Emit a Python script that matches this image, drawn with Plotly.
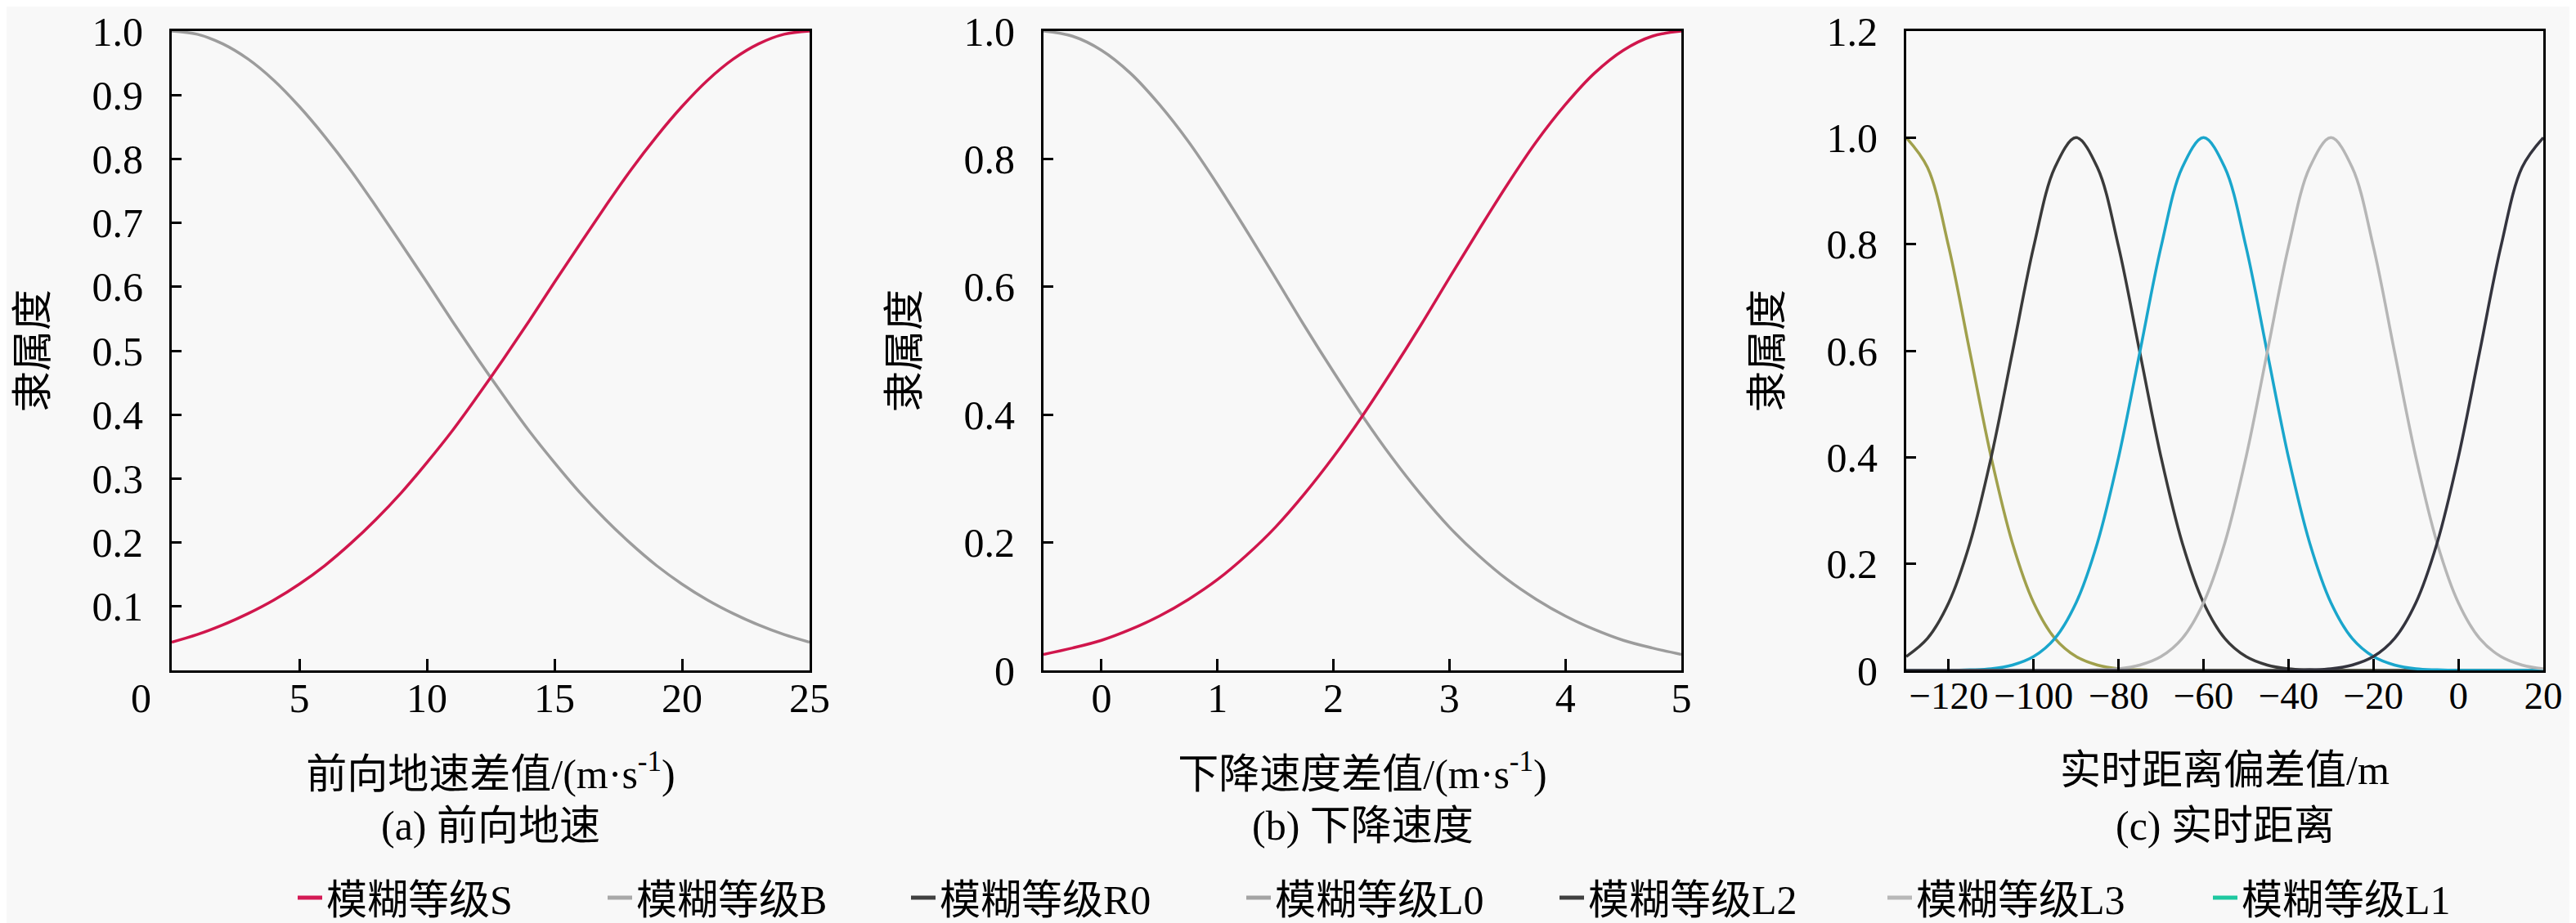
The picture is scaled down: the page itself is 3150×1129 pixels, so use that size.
import plotly.graph_objects as go

# (a) 前向地速
speed_x = [0, 1, 2, 3, 4, 5, 6, 7, 8, 9, 10, 11, 12, 13, 14, 15, 16, 17, 18, 19, 20, 21, 22, 23, 24, 25]
speed_B = [1.000, 0.995, 0.980, 0.956, 0.923, 0.882, 0.835, 0.783, 0.726, 0.667, 0.607, 0.546, 0.487,
           0.430, 0.375, 0.325, 0.278, 0.236, 0.198, 0.164, 0.135, 0.110, 0.089, 0.071, 0.056, 0.044]
speed_S = [0.044, 0.056, 0.071, 0.089, 0.110, 0.135, 0.164, 0.198, 0.236, 0.278, 0.325, 0.375, 0.430,
           0.487, 0.546, 0.607, 0.667, 0.726, 0.783, 0.835, 0.882, 0.923, 0.956, 0.980, 0.995, 1.000]

# (b) 下降速度
descent_x = [-0.5, -0.25, 0, 0.25, 0.5, 0.75, 1, 1.25, 1.5, 1.75, 2, 2.25, 2.5, 2.75, 3, 3.25, 3.5,
             3.75, 4, 4.25, 4.5, 4.75, 5]
descent_B = [1.000, 0.992, 0.970, 0.934, 0.885, 0.827, 0.760, 0.688, 0.614, 0.539, 0.467, 0.398,
             0.334, 0.276, 0.224, 0.180, 0.142, 0.111, 0.085, 0.064, 0.047, 0.035, 0.025]
descent_S = [0.025, 0.035, 0.047, 0.064, 0.085, 0.111, 0.142, 0.180, 0.224, 0.276, 0.334, 0.398,
             0.467, 0.539, 0.614, 0.688, 0.760, 0.827, 0.885, 0.934, 0.970, 0.992, 1.000]

# (c) 实时距离
dist_x = [-130, -125, -120, -115, -110, -105, -100, -95, -90, -85, -80, -75, -70, -65, -60, -55,
          -50, -45, -40, -35, -30, -25, -20, -15, -10, -5, 0, 5, 10, 15, 20]
dist_L0 = [1.000, 0.944, 0.795, 0.597, 0.400, 0.239, 0.127, 0.060, 0.026, 0.010, 0.003, 0.001, 0, 0,
           0, 0, 0, 0, 0, 0, 0, 0, 0, 0, 0, 0, 0, 0, 0, 0, 0]
dist_L2 = [0.026, 0.060, 0.127, 0.239, 0.400, 0.597, 0.795, 0.944, 1.000, 0.944, 0.795, 0.597, 0.400,
           0.239, 0.127, 0.060, 0.026, 0.010, 0.003, 0.001, 0, 0, 0, 0, 0, 0, 0, 0, 0, 0, 0]
dist_L1 = [0, 0, 0, 0.001, 0.003, 0.010, 0.026, 0.060, 0.127, 0.239, 0.400, 0.597, 0.795, 0.944,
           1.000, 0.944, 0.795, 0.597, 0.400, 0.239, 0.127, 0.060, 0.026, 0.010, 0.003, 0.001, 0, 0,
           0, 0, 0]
dist_L3 = [0, 0, 0, 0, 0, 0, 0, 0, 0, 0.001, 0.003, 0.010, 0.026, 0.060, 0.127, 0.239, 0.400, 0.597,
           0.795, 0.944, 1.000, 0.944, 0.795, 0.597, 0.400, 0.239, 0.127, 0.060, 0.026, 0.010, 0.003]
dist_R0 = [0, 0, 0, 0, 0, 0, 0, 0, 0, 0, 0, 0, 0, 0, 0, 0, 0, 0, 0, 0.001, 0.003, 0.010, 0.026,
           0.060, 0.127, 0.239, 0.400, 0.597, 0.795, 0.944, 1.000]

legend_names = ["模糊等级S", "模糊等级B", "模糊等级R0", "模糊等级L0", "模糊等级L2", "模糊等级L3", "模糊等级L1"]
legend_colors = ["#d41a55", "#a8a8a8", "#404040", "#a4a4a4", "#404040", "#b8b8b8", "#1ec8a0"]
# left edge of each legend label text in the reference, px
legend_text_x = [393, 772, 1143, 1553, 1936, 2337, 2735]

FONT = "Liberation Serif, Noto Sans CJK SC"
BG = "#f8f8f8"
LW = 3.5
W, H = 3150, 1129
NB = "\u00a0"

fig = go.Figure()

def curve(x, y, color, ax):
    fig.add_trace(go.Scatter(x=x, y=y, mode="lines", showlegend=False,
                             line=dict(color=color, width=LW, shape="spline", smoothing=1),
                             xaxis="x" + ax, yaxis="y" + ax, hoverinfo="skip"))

curve(speed_x, speed_B, "#9c9c9c", "")
curve(speed_x, speed_S, "#d0164c", "")
curve(descent_x, descent_B, "#9c9c9c", "2")
curve(descent_x, descent_S, "#d0164c", "2")
curve(dist_x, dist_L0, "#a0a04c", "3")
curve(dist_x, dist_L2, "#3a3a3a", "3")
curve(dist_x, dist_L1, "#1aa6cc", "3")
curve(dist_x, dist_L3, "#b6b6b6", "3")
curve(dist_x, dist_R0, "#34343e", "3")

legends = {}
for i, (name, color) in enumerate(zip(legend_names, legend_colors)):
    key = "legend" if i == 0 else "legend" + str(i + 1)
    fig.add_trace(go.Scatter(x=[None], y=[None], mode="lines", name=name, legend=key,
                             line=dict(color=color, width=5)))
    legends[key] = dict(orientation="h", x=(legend_text_x[i] - 42) / W, xanchor="left",
                        y=1 - 1090 / H, yanchor="middle", bgcolor="rgba(0,0,0,0)",
                        font=dict(size=50, color="black", family=FONT))

axis_common = dict(showline=True, mirror=True, linecolor="black", linewidth=3,
                   showgrid=False, zeroline=False, ticks="inside", tickcolor="black",
                   tickwidth=2.5, tickfont=dict(size=50, color="black", family=FONT),
                   layer="above traces", ticklabeloverflow="allow", tickangle=0)

domains_x = [[202 / W, 982 / W], [1268 / W, 2048 / W], [2323 / W, 3102 / W]]
domain_y = [1 - 812 / H, 1 - 30 / H]

x_titles = ["前向地速差值/(m·s<sup>-1</sup>)", "下降速度差值/(m·s<sup>-1</sup>)", "实时距离偏差值/m"]
x_ranges = [[0, 25], [-0.5, 5], [-130, 20]]
x_ticks = [[0, 5, 10, 15, 20, 25], [0, 1, 2, 3, 4, 5], [-120, -100, -80, -60, -40, -20, 0, 20]]
# the "0" of panel (a) sits left of the axis corner in the reference
x_text = [["0" + NB * 6, "5", "10", "15", "20", "25"],
          ["0", "1", "2", "3", "4", "5"],
          ["\u2212120", "\u2212100", "\u221280", "\u221260", "\u221240", "\u221220", "0", "20"]]
x_tick_size = [50, 50, 47]
y_ranges = [[0, 1], [0, 1], [0, 1.2]]
y_ticks = [[0.1, 0.2, 0.3, 0.4, 0.5, 0.6, 0.7, 0.8, 0.9, 1.0],
           [0, 0.2, 0.4, 0.6, 0.8, 1.0],
           [0, 0.2, 0.4, 0.6, 0.8, 1.0, 1.2]]
y_text = [["0.1", "0.2", "0.3", "0.4", "0.5", "0.6", "0.7", "0.8", "0.9", "1.0"],
          ["0", "0.2", "0.4", "0.6", "0.8", "1.0"],
          ["0", "0.2", "0.4", "0.6", "0.8", "1.0", "1.2"]]
subtitles = ["(a) 前向地速", "(b) 下降速度", "(c) 实时距离"]

layout = {}
for i in range(3):
    sfx = "" if i == 0 else str(i + 1)
    layout["xaxis" + sfx] = dict(axis_common, domain=domains_x[i], range=x_ranges[i],
                                 tickvals=x_ticks[i], ticktext=x_text[i], ticklen=14,
                                 tickfont=dict(size=x_tick_size[i], color="black", family=FONT),
                                 ticklabelstandoff=-12, anchor="y" + sfx,
                                 title=dict(text=x_titles[i], standoff=48,
                                            font=dict(size=50, color="black", family=FONT)))
    layout["yaxis" + sfx] = dict(axis_common, domain=domain_y, range=y_ranges[i],
                                 tickvals=y_ticks[i], ticktext=y_text[i], ticklen=12,
                                 ticklabelstandoff=22, anchor="x" + sfx,
                                 title=dict(text="隶属度", standoff=40,
                                            font=dict(size=50, color="black", family=FONT)))

fig.update_layout(**layout)

for i, txt in enumerate(subtitles):
    fig.add_annotation(text=txt, xref="paper", yref="paper", showarrow=False,
                       x=sum(domains_x[i]) / 2, y=1 - 1002 / H, xanchor="center", yanchor="middle",
                       font=dict(size=50, color="black", family=FONT))

fig.update_layout(
    width=W, height=H,
    margin=dict(l=0, r=0, t=0, b=0, autoexpand=False),
    paper_bgcolor=BG, plot_bgcolor=BG,
    font=dict(family=FONT, size=50, color="black"),
    **legends,
)

fig.write_html("out.html")
